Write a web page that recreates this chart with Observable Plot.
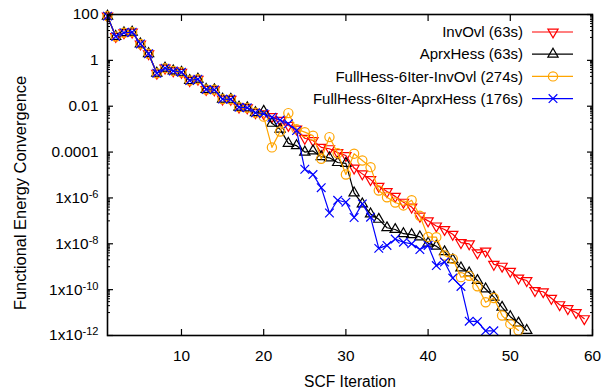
<!DOCTYPE html>
<html><head><meta charset="utf-8">
<script src="https://cdn.jsdelivr.net/npm/d3@7"></script>
<script src="https://cdn.jsdelivr.net/npm/@observablehq/plot@0.6"></script>
<style>body{margin:0;background:#fff}</style>
</head><body><div id="chart"></div>
<script>
// shared first 19 SCF iterations (all methods identical)
const common = [85, 11, 16, 17, 5.2, 1.95, 0.275, 0.457, 0.347, 0.302, 0.132, 0.151, 0.0537, 0.052, 0.0204, 0.02, 0.0091, 0.0085, 0.0052];
// iterations 20..59
const invOvlTail = [4.7e-3, 3.5e-3, 2.4e-3, 1.45e-3, 1.0e-3, 4.0e-4, 3.2e-4, 1.6e-4, 1.4e-4, 9.5e-5, 7.1e-5, 2.0e-5, 1.12e-5, 6.3e-6, 3.2e-6, 1.9e-6, 1.17e-6, 6.5e-7, 4.0e-7, 1.6e-7, 1.0e-7, 6.0e-8, 4.2e-8, 2.6e-8, 1.12e-8, 1.0e-8, 4.0e-9, 4.8e-9, 1.26e-9, 1.05e-9, 6.3e-10, 3.2e-10, 2.5e-10, 9.1e-11, 8.1e-11, 4.2e-11, 2.2e-11, 1.5e-11, 1.0e-11, 5.4e-12];
// iterations 20..52
const aprxHessTail = [6.0e-3, 1.8e-3, 1.0e-3, 2.4e-4, 1.9e-4, 1.0e-4, 1.12e-4, 6.3e-5, 5.6e-5, 3.5e-5, 3.2e-5, 1.66e-6, 5.5e-7, 2.0e-7, 1.17e-7, 5.0e-8, 4.2e-8, 2.75e-8, 2.5e-8, 2.0e-8, 1.07e-8, 7.9e-9, 4.5e-9, 2.0e-9, 8.9e-10, 5.4e-10, 2.5e-10, 1.07e-10, 4.7e-11, 1.7e-11, 6.6e-12, 3.5e-12, 1.66e-12];
// iterations 20..51
const fullInvOvlTail = [3.5e-3, 1.6e-4, 7.9e-4, 5.0e-3, 1.0e-3, 7.4e-4, 5.2e-4, 5.1e-5, 4.5e-4, 8.9e-5, 1.05e-5, 8.5e-5, 4.3e-5, 2.2e-5, 2.1e-6, 1.07e-6, 6.3e-7, 4.7e-7, 7.9e-7, 1.66e-7, 2.0e-8, 1.95e-8, 3.1e-9, 2.2e-9, 3.5e-10, 4.0e-10, 1.4e-10, 2.8e-11, 4.3e-11, 7.4e-12, 3.2e-12, 1.66e-12];
// iterations 20..48
const fullAprxHessTail = [4.7e-3, 3.3e-3, 2.5e-3, 1.7e-3, 8.7e-4, 1.78e-5, 1.05e-5, 2.8e-6, 2.2e-7, 7.9e-7, 6.5e-7, 1.4e-7, 5.5e-7, 1.45e-7, 6.3e-9, 8.5e-9, 1.6e-8, 1.17e-8, 1.0e-8, 5.6e-9, 8.5e-9, 1.12e-9, 1.6e-9, 3.2e-10, 1.38e-10, 4.2e-12, 4.0e-12, 1.6e-12, 1.6e-12];

const seriesNames = ["InvOvl (63s)", "AprxHess (63s)", "FullHess-6Iter-InvOvl (274s)", "FullHess-6Iter-AprxHess (176s)"];
const seriesColors = ["#ff0000", "#000000", "#ffa500", "#0000ff"];
const xTicks = [10, 20, 30, 40, 50, 60];
const yTicks = [1e-12, 1e-10, 1e-8, 1e-6, 1e-4, 1e-2, 1, 100];
const yTickLabels = ["1x10^-12", "1x10^-10", "1x10^-8", "1x10^-6", "0.0001", "0.01", "1", "100"];
const xTitle = "SCF Iteration";
const yTitle = "Functional Energy Convergence";

// minor log ticks (gnuplot style: 10..90 x lower major)
const yMinor = [];
for (let k = -11; k <= 1; k += 2) for (let d = 1; d <= 9; d++) yMinor.push(d * Math.pow(10, k));

const triangleDown = {
  draw(ctx, size) {
    const y = -Math.sqrt(size / (Math.sqrt(3) * 3));
    ctx.moveTo(0, -y * 2);
    ctx.lineTo(-Math.sqrt(3) * y, y);
    ctx.lineTo(Math.sqrt(3) * y, y);
    ctx.closePath();
  }
};
const symbols = [triangleDown, d3.symbolTriangle, d3.symbolCircle, d3.symbolTimes];
const radii = [3.8, 3.8, 4.6, 4];

const allSeries = [common.concat(invOvlTail), common.concat(aprxHessTail), common.concat(fullInvOvlTail), common.concat(fullAprxHessTail)];
const rows = allSeries.map((vals, s) => vals.map((v, i) => ({iter: i + 1, value: v, series: seriesNames[s]})));

const labelMap = new Map(yTicks.map((t, i) => [t, yTickLabels[i]]));
const font = "'Liberation Sans', Arial, sans-serif";

const marks = [];
rows.forEach((data, s) => {
  marks.push(Plot.line(data, {x: "iter", y: "value", stroke: seriesColors[s], strokeWidth: 1.2}));
  marks.push(Plot.dot(data, {x: "iter", y: "value", symbol: symbols[s], r: radii[s], stroke: seriesColors[s], fill: "none", strokeWidth: 1.2}));
});

const chart = Plot.plot({
  width: 610, height: 391,
  marginLeft: 107, marginRight: 18, marginTop: 14, marginBottom: 56,
  style: {fontFamily: font, fontSize: "15.4px", background: "#fff", color: "#000", overflow: "visible"},
  x: {domain: [1, 60]},
  y: {type: "log", domain: [1e-12, 100]},
  marks: [
    ...marks,
    Plot.axisX(xTicks, {anchor: "bottom", tickSize: -6, tickPadding: 21, label: null, strokeWidth: 1.2}),
    Plot.axisX(xTicks, {anchor: "top", tickSize: -6, tickFormat: () => "", label: null, strokeWidth: 1.2}),
    Plot.axisY(yTicks, {anchor: "left", tickSize: -6, tickPadding: 15, tickFormat: d => labelMap.get(d), label: null, strokeWidth: 1.2}),
    Plot.axisY(yTicks, {anchor: "right", tickSize: -6, tickFormat: () => "", label: null, strokeWidth: 1.2}),
    Plot.axisY(yMinor, {anchor: "left", tickSize: -3, tickFormat: () => "", label: null, strokeWidth: 1}),
    Plot.axisY(yMinor, {anchor: "right", tickSize: -3, tickFormat: () => "", label: null, strokeWidth: 1}),
    Plot.frame({stroke: "#000", strokeWidth: 1.6}),
    Plot.text([xTitle], {frameAnchor: "bottom", dy: 46.5, lineAnchor: "middle", textAnchor: "middle", fontSize: 15.6}),
    Plot.text([yTitle], {frameAnchor: "left", rotate: -90, dx: -87, dy: 18, lineAnchor: "middle", textAnchor: "middle", fontSize: 16.4})
  ]
});
document.getElementById("chart").appendChild(chart);

// superscripts in y tick labels
d3.select(chart).selectAll('g[aria-label="y-axis tick label"] text').each(function () {
  const t = this.textContent;
  const m = /^(.*)\^(.*)$/.exec(t);
  if (m) {
    this.textContent = m[1];
    d3.select(this).append("tspan").attr("dy", "-0.45em").attr("font-size", "0.72em").text(m[2]);
  }
});

// legend (top-right, inside the frame)
const legendRowY = [32, 54.2, 76.4, 98.6];
const lg = d3.select(chart).append("g").attr("font-family", font).attr("font-size", 15);
seriesNames.forEach((name, s) => {
  const y = legendRowY[s];
  lg.append("text").attr("x", 523).attr("y", y).attr("dy", "0.35em").attr("text-anchor", "end").attr("fill", "#000").text(name);
  lg.append("line").attr("x1", 532).attr("x2", 573).attr("y1", y).attr("y2", y).attr("stroke", seriesColors[s]).attr("stroke-width", 1.2);
  lg.append("path").attr("d", d3.symbol(symbols[s], Math.PI * radii[s] * radii[s])())
    .attr("transform", `translate(553,${y})`).attr("fill", "none").attr("stroke", seriesColors[s]).attr("stroke-width", 1.2);
});
</script>
</body></html>
